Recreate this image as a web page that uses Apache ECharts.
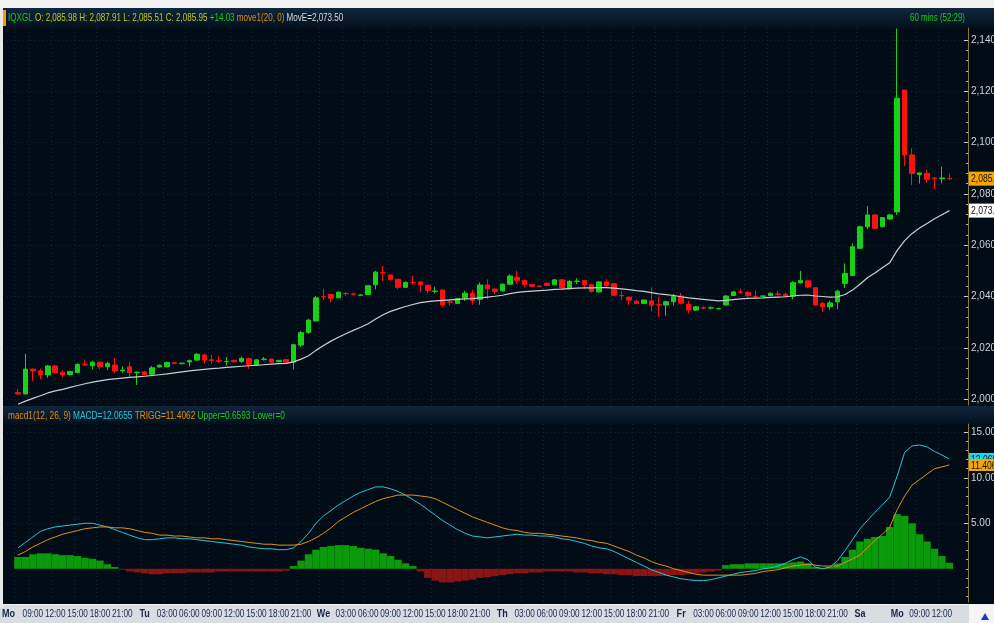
<!DOCTYPE html>
<html><head><meta charset="utf-8">
<script src="https://cdn.jsdelivr.net/npm/echarts@6/dist/echarts.min.js"></script>
<style>html,body{margin:0;padding:0;background:#fff;}#c{width:994px;height:623px;}</style>
</head><body><div id="c"></div><script>
// ---- time axis: trading days and hourly bars
const dayNames = ['Mo','Tu','We','Th','Fr','Sa','Mo'];
const dayFirstHour = [7,0,0,0,0,0,6];
const dayBarCount = [17,24,24,24,24,5,8];

// ---- OHLC (hourly)
const open = [2002.5,2002.0,2011.7,2011.0,2009.4,2012.9,2010.5,2009.6,2010.4,2013.6,2013.0,2014.4,2012.6,2013.3,2011.0,2012.6,2010.3,2010.6,2009.7,2012.5,2012.6,2014.2,2013.8,2014.5,2015.2,2017.2,2015.3,2015.0,2014.6,2015.1,2014.7,2015.8,2013.3,2015.5,2015.6,2014.6,2015.4,2014.4,2021.1,2026.0,2030.5,2040.0,2040.8,2039.5,2041.2,2041.0,2040.5,2040.8,2044.6,2049.3,2048.4,2046.7,2043.6,2045.5,2045.7,2044.4,2042.0,2042.5,2037.9,2037.3,2039.5,2041.3,2038.9,2044.5,2042.9,2042.2,2044.8,2047.5,2046.3,2044.7,2044.1,2045.2,2044.6,2046.5,2043.1,2045.9,2046.2,2044.6,2041.8,2045.7,2045.0,2040.4,2039.7,2038.2,2037.3,2038.3,2036.8,2036.7,2038.0,2040.2,2037.0,2034.7,2035.6,2035.5,2035.2,2036.7,2040.4,2041.8,2041.6,2040.1,2040.1,2040.4,2041.0,2040.9,2040.2,2045.3,2046.1,2043.4,2037.3,2036.0,2037.9,2045.1,2048.2,2058.8,2067.2,2071.8,2067.2,2070.2,2073.0,2120.5,2095.2,2087.6,2088.0,2086.2,2085.9,2085.98];
const close = [2002.0,2011.7,2011.0,2009.4,2012.9,2010.3,2009.4,2010.8,2013.5,2013.3,2014.4,2012.6,2013.9,2011.0,2011.3,2010.3,2010.5,2009.5,2012.2,2013.2,2014.3,2013.9,2014.0,2015.0,2017.5,2015.2,2015.1,2014.8,2014.7,2014.6,2015.9,2013.4,2015.3,2015.6,2014.4,2015.1,2014.4,2021.2,2025.9,2030.8,2039.5,2039.9,2039.3,2041.7,2041.1,2040.9,2040.6,2044.2,2049.5,2049.2,2046.7,2043.6,2045.5,2045.4,2044.6,2042.4,2042.1,2036.7,2037.8,2039.2,2041.3,2038.4,2044.5,2043.0,2042.0,2044.8,2048.0,2046.3,2044.7,2044.0,2044.0,2044.3,2046.5,2043.3,2045.9,2046.0,2044.6,2042.0,2045.7,2044.3,2040.5,2040.3,2038.6,2037.3,2038.6,2036.6,2036.7,2038.0,2040.0,2037.4,2034.7,2036.0,2035.5,2035.6,2035.3,2040.2,2041.8,2041.7,2040.3,2040.0,2040.2,2041.3,2040.9,2040.0,2045.4,2046.2,2043.7,2036.7,2036.0,2037.5,2042.1,2049.0,2059.4,2067.2,2071.8,2066.6,2070.8,2071.8,2117.3,2095.2,2088.0,2088.2,2085.7,2086.1,2086.2,2085.95];
const low = [2001.8,2001.8,2007.1,2007.7,2008.3,2010.0,2008.5,2009.2,2010.1,2012.9,2011.6,2011.6,2011.3,2010.0,2010.3,2008.5,2005.5,2009.2,2009.4,2012.3,2012.4,2013.8,2013.6,2012.7,2015.0,2013.8,2013.8,2014.1,2013.1,2014.3,2014.1,2011.8,2013.0,2015.0,2014.2,2014.4,2014.2,2011.6,2020.4,2025.5,2030.2,2038.6,2037.8,2039.3,2040.3,2040.5,2040.3,2040.6,2042.8,2046.0,2046.2,2042.8,2043.4,2044.5,2041.8,2041.2,2041.2,2035.8,2036.4,2037.0,2038.3,2036.8,2036.8,2039.0,2041.0,2042.0,2044.6,2044.8,2043.5,2043.8,2043.8,2044.1,2044.4,2043.0,2042.8,2044.8,2043.0,2041.6,2041.5,2043.2,2040.1,2038.6,2036.7,2037.0,2037.1,2034.3,2032.1,2032.5,2036.5,2037.0,2033.4,2034.5,2034.9,2035.0,2035.0,2036.5,2040.2,2041.2,2039.6,2039.0,2039.9,2040.2,2040.4,2039.6,2039.0,2045.1,2043.2,2036.5,2034.0,2034.8,2035.0,2043.3,2048.0,2058.5,2066.2,2066.3,2067.0,2070.0,2071.8,2090.9,2083.5,2084.1,2084.4,2081.8,2084.1,2085.51];
const high = [2003.9,2017.6,2011.9,2011.9,2013.3,2013.4,2011.2,2011.0,2014.0,2015.5,2015.0,2014.8,2014.6,2016.0,2012.7,2014.5,2010.8,2010.9,2012.9,2013.5,2014.6,2014.4,2014.2,2015.4,2018.0,2017.7,2017.3,2016.9,2016.4,2015.4,2016.6,2016.2,2015.6,2016.4,2015.8,2015.3,2015.6,2021.4,2026.6,2031.3,2040.2,2042.9,2040.9,2042.0,2041.7,2041.5,2040.8,2044.5,2050.0,2051.9,2048.5,2046.8,2045.9,2048.0,2045.9,2044.6,2043.8,2042.8,2038.8,2039.4,2042.2,2042.6,2045.5,2046.7,2043.1,2045.1,2048.7,2050.0,2046.5,2044.9,2044.3,2045.4,2046.8,2046.7,2046.4,2047.1,2046.4,2044.8,2046.0,2046.8,2045.2,2042.2,2040.0,2038.6,2038.8,2043.6,2039.9,2038.3,2041.0,2041.4,2038.3,2036.3,2036.2,2036.1,2035.5,2040.5,2042.0,2043.0,2042.2,2042.3,2040.4,2041.5,2042.2,2041.6,2046.0,2050.0,2046.6,2043.6,2037.9,2038.4,2042.6,2052.9,2060.7,2067.6,2075.3,2072.0,2071.0,2072.2,2144.5,2120.6,2097.8,2088.4,2089.3,2086.4,2090.6,2087.91];
// ---- move1(20,0) exponential average
const moveE = [1998.0,1999.2,2000.3,2001.3,2002.4,2003.2,2003.8,2004.6,2005.3,2006.0,2006.6,2007.1,2007.6,2007.9,2008.2,2008.5,2008.7,2008.9,2009.2,2009.5,2009.8,2010.2,2010.6,2011.0,2011.3,2011.6,2011.9,2012.1,2012.4,2012.6,2012.8,2013.0,2013.2,2013.4,2013.6,2013.8,2013.9,2014.5,2015.6,2016.9,2019.0,2020.9,2022.6,2024.1,2025.5,2026.8,2028.0,2029.4,2031.2,2032.9,2034.2,2035.2,2036.1,2036.9,2037.6,2038.0,2038.3,2038.5,2038.7,2038.9,2039.1,2039.2,2039.5,2039.8,2040.1,2040.5,2041.1,2041.6,2041.9,2042.1,2042.3,2042.5,2042.8,2042.9,2043.1,2043.3,2043.4,2043.4,2043.5,2043.5,2043.3,2043.0,2042.7,2042.3,2042.0,2041.5,2041.0,2040.7,2040.4,2039.9,2039.5,2039.2,2038.9,2038.6,2038.3,2038.5,2038.8,2039.1,2039.3,2039.4,2039.5,2039.7,2039.8,2039.9,2040.2,2040.5,2040.6,2040.2,2040.0,2039.8,2039.9,2040.8,2042.5,2044.8,2047.3,2049.2,2051.2,2053.2,2058.0,2061.8,2064.6,2066.7,2068.5,2070.3,2071.9,2073.5];
// ---- macd1(12,26,9)
const macd = [2.3,2.9,3.5,4.1,4.4,4.6,4.7,4.8,4.9,5.0,5.0,4.8,4.6,4.3,4.0,3.7,3.4,3.2,3.2,3.3,3.4,3.4,3.3,3.3,3.2,3.1,3.0,2.9,2.8,2.7,2.6,2.4,2.3,2.2,2.2,2.1,2.1,2.3,3.0,3.9,5.0,5.8,6.4,7.0,7.5,8.0,8.4,8.7,9.0,9.0,8.8,8.5,8.1,7.6,7.1,6.5,5.9,5.3,4.8,4.3,3.9,3.6,3.5,3.4,3.5,3.6,3.7,3.8,3.7,3.7,3.6,3.6,3.5,3.3,3.2,3.0,2.8,2.5,2.3,2.2,1.9,1.5,1.1,0.7,0.3,-0.1,-0.4,-0.7,-0.9,-1.1,-1.2,-1.3,-1.3,-1.2,-1.0,-0.8,-0.6,-0.4,-0.3,-0.2,0.0,0.1,0.3,0.6,1.0,1.3,1.0,0.2,0.0,0.2,0.9,2.0,3.2,4.4,5.3,6.2,7.0,7.9,10.2,12.8,13.5,13.6,13.4,12.9,12.5,12.0655];
const trigg = [1.5,1.9,2.4,2.8,3.2,3.5,3.8,4.0,4.2,4.4,4.5,4.6,4.6,4.5,4.5,4.4,4.2,4.0,3.9,3.7,3.7,3.6,3.6,3.5,3.4,3.4,3.3,3.3,3.2,3.1,3.0,2.9,2.8,2.7,2.7,2.6,2.6,2.6,2.7,3.0,3.4,3.9,4.5,5.2,5.7,6.2,6.6,7.0,7.4,7.7,7.9,8.1,8.1,8.1,8.0,7.9,7.7,7.3,6.9,6.5,6.1,5.7,5.4,5.1,4.8,4.5,4.3,4.2,4.0,3.9,3.9,3.8,3.7,3.6,3.5,3.4,3.2,3.1,2.9,2.8,2.5,2.2,1.9,1.5,1.2,0.8,0.5,0.3,0.0,-0.2,-0.4,-0.6,-0.7,-0.7,-0.7,-0.7,-0.7,-0.7,-0.6,-0.5,-0.3,-0.2,-0.1,0.1,0.3,0.4,0.5,0.4,0.3,0.3,0.3,0.7,1.1,1.5,2.3,3.1,3.8,4.6,6.5,8.0,9.2,9.8,10.4,11.0,11.2,11.4062];
const upper = [1.3,1.3,1.6,1.7,1.7,1.6,1.5,1.5,1.4,1.2,1.1,0.9,0.5,0.2,-0.1,-0.3,-0.4,-0.5,-0.6,-0.6,-0.5,-0.5,-0.5,-0.4,-0.4,-0.4,-0.4,-0.3,-0.3,-0.3,-0.3,-0.3,-0.3,-0.3,-0.3,-0.3,-0.2,0.3,0.9,1.6,2.1,2.4,2.5,2.6,2.6,2.5,2.3,2.2,2.1,1.7,1.4,1.0,0.6,0.3,-0.3,-1.0,-1.3,-1.5,-1.5,-1.4,-1.3,-1.2,-1.0,-0.9,-0.8,-0.7,-0.6,-0.5,-0.5,-0.4,-0.4,-0.3,-0.3,-0.3,-0.3,-0.4,-0.4,-0.5,-0.5,-0.6,-0.6,-0.7,-0.7,-0.8,-0.8,-0.8,-0.8,-0.8,-0.7,-0.7,-0.6,-0.5,-0.4,-0.3,-0.2,0.4,0.5,0.5,0.6,0.6,0.6,0.6,0.6,0.6,0.7,0.8,0.6,0.2,0.1,0.2,0.6,1.3,2.1,3.0,3.3,3.5,3.6,4.6,6.0,5.8,5.0,3.8,3.0,2.2,1.4,0.6593];
// ---- axis tick labels
const priceTicks = [2000,2020,2040,2060,2080,2100,2120,2140];
const priceMinorTicks = [2004,2008,2012,2016,2024,2028,2032,2036,2044,2048,2052,2056,2064,2068,2072,2076,2084,2088,2092,2096,2104,2108,2112,2116,2124,2128,2132,2136];
const macdTicks = [5,10,15];
const macdMinorTicks = [-3,-2,-1,0,1,2,3,4,6,7,8,9,11,12,13,14];

// ---- build category axis (one pad band before, two after)
const cats = [''], labelText = [''], labelIsDay = [false];
const lastDay = dayNames.length-1;
dayNames.forEach((d,k)=>{
  for(let j=0;j<dayBarCount[k];j++){
    const h = dayFirstHour[k]+j;
    const hs = String(h).padStart(2,'0')+':00';
    cats.push(d+' '+hs);
    let t='';
    if(j===0) t=d;
    else if(h%3===0 && (k===lastDay || dayBarCount[k]-j>=3)) t=hs;
    labelText.push(t); labelIsDay.push(j===0);
  }
});
cats.push('',''); labelText.push('',''); labelIsDay.push(false,false);
const labelIdx = [];
labelText.forEach((t,i)=>{ if(t) labelIdx.push(i); });
const nextLabelGap = {};
labelIdx.forEach((c,k)=>{ nextLabelGap[c] = k<labelIdx.length-1 ? labelIdx[k+1]-c : 99; });
const pad = a => ['-'].concat(a, ['-','-']);
const candles = ['-'];
for(let i=0;i<open.length;i++) candles.push([open[i],close[i],low[i],high[i]]);
candles.push('-','-');
const fmt2 = v => v.toLocaleString('en-US',{minimumFractionDigits:2,maximumFractionDigits:2});
const n = open.length-1;
const isLbl = i => labelText[i]!=='';

const FONT = "'Liberation Sans',Arial,sans-serif";
const hdrGrad = () => new echarts.graphic.LinearGradient(0,0,0,1,[{offset:0,color:'#10263b'},{offset:1,color:'#03111e'}]);
const gridLine = {show:true,lineStyle:{color:'#15283a',type:[1,3],width:1}};

// value tag drawn at the right edge of a grid, at the value's y position
function tagSeries(xi, yi, value, text, bg, h, z){
  return {type:'custom',xAxisIndex:xi,yAxisIndex:yi,z:z,silent:true,clip:false,data:[[n+1,value]],
    renderItem:(params,api)=>{
      const cs = params.coordSys;
      const y = api.coord([api.value(0),api.value(1)])[1];
      const x0 = cs.x+cs.width+1;
      return {type:'group',children:[
        {type:'rect',shape:{x:x0,y:y-h/2,width:30,height:h},style:{fill:bg}},
        {type:'text',x:x0+2,y:y+0.5,scaleX:0.78,style:{text:text,fill:'#101010',fontSize:11,fontFamily:FONT,verticalAlign:'middle'}}
      ]};
    }};
}

const chart = echarts.init(document.getElementById('c'),null,{renderer:'canvas'});
chart.setOption({
  backgroundColor:'#020c16',
  animation:false,
  textStyle:{fontFamily:FONT},
  graphic:[
    {type:'rect',shape:{x:0,y:0,width:994,height:8},style:{fill:'#f2f2f2'},z:-1},
    {type:'rect',shape:{x:0,y:8,width:994,height:20},style:{fill:hdrGrad()},z:-1},
    {type:'rect',shape:{x:0,y:406,width:994,height:18},style:{fill:hdrGrad()},z:-1},
    {type:'rect',shape:{x:0,y:605,width:994,height:18},style:{fill:'#d9dde2'},z:-1},
    {type:'rect',shape:{x:0,y:604,width:994,height:1},style:{fill:'#f0f0f0'},z:-1},
    {type:'rect',shape:{x:0,y:8,width:3,height:600},style:{fill:'#e8e8e8'},z:-1},
    {type:'rect',shape:{x:3,y:10,width:3,height:16},style:{fill:'#f39c12'},z:5},
    {type:'rect',shape:{x:969,y:605,width:25,height:18},style:{fill:'#f5f5f5'},z:5},
    {type:'polygon',shape:{points:[[985,613],[981,620],[989,620]]},style:{fill:'#1a3cc8'},z:6},
    {type:'text',x:8,y:18,scaleX:0.733,z:10,style:{
      text:'{g|IQXGL} {y|O: 2,085.98 H: 2,087.91 L: 2,085.51 C: 2,085.95} {g|+14.03} {o|move1(20, 0)} {w|MovE=2,073.50}',
      fontSize:11,fontFamily:FONT,verticalAlign:'middle',fill:'#ddd',
      rich:{g:{fill:'#1fc81f',fontSize:11,fontFamily:FONT},y:{fill:'#c2c820',fontSize:11,fontFamily:FONT},
            o:{fill:'#e08c10',fontSize:11,fontFamily:FONT},w:{fill:'#d8d8d8',fontSize:11,fontFamily:FONT}}}},
    {type:'text',x:965,y:18,scaleX:0.72,z:10,style:{text:'60 mins (52:29)',fontSize:11,fontFamily:FONT,fill:'#1fc81f',align:'right',verticalAlign:'middle'}},
    {type:'text',x:8,y:416,scaleX:0.755,z:10,style:{
      text:'{o|macd1(12, 26, 9)} {c|MACD=12.0655} {o|TRIGG=11.4062} {g|Upper=0.6593 Lower=0}',
      fontSize:11,fontFamily:FONT,verticalAlign:'middle',fill:'#ddd',
      rich:{o:{fill:'#e08c10',fontSize:11,fontFamily:FONT},c:{fill:'#22c8d8',fontSize:11,fontFamily:FONT},g:{fill:'#1fc81f',fontSize:11,fontFamily:FONT}}}}
  ],
  grid:[
    {left:6.8,right:26,top:28,bottom:218,outerBoundsMode:'none',containLabel:false},
    {left:6.8,right:26,top:424,bottom:21,outerBoundsMode:'none',containLabel:false}
  ],
  xAxis:[
    {gridIndex:0,type:'category',data:cats,boundaryGap:true,axisLine:{show:false},
     axisTick:{show:false,alignWithLabel:true,interval:isLbl},axisLabel:{show:false,interval:isLbl},
     splitLine:Object.assign({interval:isLbl},gridLine)},
    {gridIndex:1,type:'category',data:cats,boundaryGap:true,axisLine:{show:false},
     axisTick:{show:false,alignWithLabel:true,interval:isLbl},axisLabel:{show:false,interval:isLbl},
     splitLine:Object.assign({interval:isLbl},gridLine)}
  ],
  yAxis:[
    {gridIndex:0,type:'value',position:'right',min:1997.7,max:2144.7,
     axisLine:{show:true,lineStyle:{color:'#8a7838',width:1}},
     axisTick:{show:true,inside:true,length:4,customValues:priceTicks,lineStyle:{color:'#c8c8c8'}},
     axisLabel:{show:true,customValues:priceTicks,formatter:v=>fmt2(v),color:'#cfd3d6',fontSize:10,margin:3,fontFamily:FONT},
     splitLine:gridLine},
    {gridIndex:1,type:'value',position:'right',min:-3.65,max:15.91,
     axisLine:{show:true,lineStyle:{color:'#8a7838',width:1}},
     axisTick:{show:true,inside:true,length:4,customValues:macdTicks,lineStyle:{color:'#c8c8c8'}},
     axisLabel:{show:true,customValues:macdTicks,formatter:v=>fmt2(v),color:'#cfd3d6',fontSize:10,margin:3,fontFamily:FONT},
     splitLine:gridLine},
    {gridIndex:0,type:'value',position:'right',min:1997.7,max:2144.7,axisLine:{show:false},axisLabel:{show:false},splitLine:{show:false},
     axisTick:{show:true,inside:true,length:2,customValues:priceMinorTicks,lineStyle:{color:'#b8b8b8'}}},
    {gridIndex:1,type:'value',position:'right',min:-3.65,max:15.91,axisLine:{show:false},axisLabel:{show:false},splitLine:{show:false},
     axisTick:{show:true,inside:true,length:2,customValues:macdMinorTicks,lineStyle:{color:'#b8b8b8'}}}
  ],
  series:[
    {type:'candlestick',xAxisIndex:0,yAxisIndex:0,data:candles,barWidth:5,clip:true,
     itemStyle:{color:'#18d018',color0:'#ff1010',borderColor:'#18d018',borderColor0:'#ff1010',borderWidth:1}},
    {type:'line',xAxisIndex:0,yAxisIndex:0,data:pad(moveE),showSymbol:false,symbol:'none',lineStyle:{color:'#c9cdd1',width:1.2}},
    {type:'bar',xAxisIndex:1,yAxisIndex:1,data:pad(upper),barWidth:'100%',
     itemStyle:{color:p=>p.value>=0?'#0a9a0a':'#8c1414'}},
    {type:'line',xAxisIndex:1,yAxisIndex:1,data:pad(macd),showSymbol:false,symbol:'none',lineStyle:{color:'#22c8d8',width:1}},
    {type:'line',xAxisIndex:1,yAxisIndex:1,data:pad(trigg),showSymbol:false,symbol:'none',lineStyle:{color:'#e0901c',width:1}},
    tagSeries(0,0,close[n],fmt2(close[n]),'#f4a500',14,20),
    tagSeries(0,0,moveE[n],fmt2(moveE[n]),'#ffffff',14,20),
    tagSeries(1,1,macd[n],macd[n].toFixed(4),'#22d8e8',12,20),
    tagSeries(1,1,trigg[n],trigg[n].toFixed(4),'#f4a500',12,21),
    // time-axis labels, placed under the lower panel at each labelled category
    {type:'custom',xAxisIndex:1,yAxisIndex:1,z:20,silent:true,clip:false,data:labelIdx.map(i=>[i,0]),
     renderItem:(params,api)=>{
       const cs = params.coordSys;
       const i = api.value(0);
       const x = api.coord([i,0])[0];
       const day = labelIsDay[i];
       const crowded = nextLabelGap[i] <= 2;
       return {type:'text',x:crowded ? x-3 : x,y:cs.y+cs.height+12,scaleX:0.82,
         style:{text:labelText[i],fill:'#16264a',fontSize:day?11:10,fontWeight:day?'bold':'normal',fontFamily:FONT,
                align:crowded?'right':'center',verticalAlign:'middle'}};
     }}
  ]
});
</script></body></html>
